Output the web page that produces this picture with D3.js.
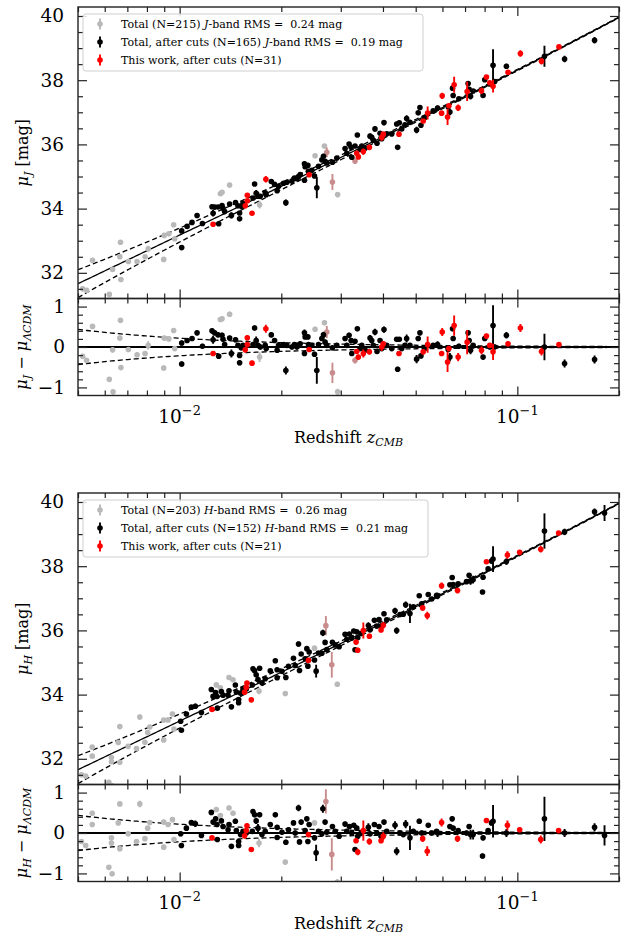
<!DOCTYPE html>
<html><head><meta charset="utf-8">
<script src="https://cdn.jsdelivr.net/npm/d3@7"></script>
<style>
body{margin:0;background:#fff}
text{font-family:"DejaVu Serif",serif;fill:#000}
</style>
</head><body>
<svg id="chart" width="628" height="936"></svg>
<script>
// ---------- tick labels / axes ----------
const zDomain = [0.005, 0.2];
const xMajorTicks = [0.01, 0.1];
const xMajorLabels = [["10", "\u22122"], ["10", "\u22121"]];
const xMinorTicks = [0.005,0.006,0.007,0.008,0.009,0.02,0.03,0.04,0.05,0.06,0.07,0.08,0.09,0.2];
const muDomain = [31.2, 40.28];
const muTicks = [32, 34, 36, 38, 40];
const muMinorTicks = [31.5,32.5,33,33.5,34.5,35,35.5,36.5,37,37.5,38.5,39,39.5];
const resDomain = [-1.2, 1.2];
const resTicks = [-1, 0, 1];
const resTickLabels = ["\u22121", "0", "1"];
const resMinorTicks = [-0.8,-0.6,-0.4,-0.2,0.2,0.4,0.6,0.8];

// cosmology used for the reference curve
const H0 = 70, OMEGA_M = 0.3, SIGMA_V = 300, C_KMS = 299792.458;

// ---------- J band data: [z_CMB, mu - mu_LCDM, error] ----------
const jGray = [[0.00552,0.51,0.06],[0.00516,-0.23],[0.0053,-0.33],[0.00633,-0.07],[0.00668,0.66],[0.00665,0.22],[0.0067,-0.51],[0.00619,-0.80],[0.00635,-1.11],[0.00705,-0.06],[0.00748,-0.19],[0.0079,-0.16],[0.00807,0.04,0.1],[0.00897,-0.52],[0.009,0.22],[0.00929,0.20],[0.0096,0.41],[0.00967,-0.04],[0.0132,0.68],[0.01335,0.70],[0.01406,0.81],[0.01725,-0.25,0.12],[0.02518,0.44],[0.02684,0.60],[0.02937,-1.11,0.08]];
const jPink = [[0.02727,0.37,0.15],[0.02834,-0.64,0.25],[0.03306,-0.33,0.08]];
const jBlack = [[0.01014,0.10],[0.01014,-0.42],[0.01052,0.16],[0.01088,0.21],[0.01126,0.35],[0.01168,0.02],[0.01247,0.40],[0.01256,0.18,0.1],[0.01269,0.35],[0.01299,0.30],[0.01305,-0.23],[0.01335,0.29],[0.01344,0.19],[0.01359,0.06],[0.01406,0.22],[0.01423,-0.16,0.1],[0.01464,0.18],[0.01488,0.04],[0.01505,-0.21],[0.01505,-0.39],[0.01522,-0.02],[0.0154,0.04],[0.01649,0.06],[0.01667,0.47],[0.01685,0.16,0.1],[0.01706,0.04],[0.01733,0],[0.01792,0.04],[0.01804,-0.04],[0.01868,0.30],[0.0191,0.16],[0.01944,-0.08],[0.01963,0.04],[0.02031,0.06],[0.02063,-0.58,0.1],[0.02077,0.04],[0.0215,0],[0.02187,0.06],[0.02224,0],[0.02249,0.04],[0.02275,0.08],[0.02342,0.35,0.08],[0.02353,0.25],[0.02397,0.25],[0.02342,-0.16],[0.02407,0.06],[0.02463,0.04],[0.02508,-0.18],[0.02548,-0.58,0.33],[0.02577,0.06],[0.02637,0.21],[0.02666,0.30,0.08],[0.02696,0.12],[0.02727,0.04],[0.02834,-0.02],[0.0292,0.04],[0.03089,0.21],[0.03125,0.04],[0.03175,0.29],[0.03219,0.16],[0.03234,-0.16],[0.03306,0.14],[0.03359,0.45],[0.03422,-0.04],[0.03462,0.04],[0.03539,-0.08],[0.03663,0.22,0.08],[0.03705,0.16],[0.03745,0.04],[0.03788,0.37,0.08],[0.03841,-0.11],[0.03921,0.16],[0.03966,-0.04],[0.04028,0.43,0.08],[0.04103,0.04],[0.04246,-0.04],[0.04392,0.19],[0.04422,-0.55],[0.04471,0.19],[0.04545,-0.04],[0.04647,0.04],[0.04701,0.21,0.1],[0.04809,0.04],[0.05031,-0.30,0.1],[0.05087,0.21],[0.05147,0.35],[0.05182,-0.22],[0.05322,-0.04],[0.05634,0.04],[0.05805,0.06,0.08],[0.0624,-0.06],[0.06313,-0.25,0.1],[0.06429,0.45],[0.06455,0.21],[0.06711,0.02],[0.07149,0.35],[0.07198,0.16],[0.07268,-0.08,0.1],[0.07396,0.04],[0.07916,-0.25],[0.08007,0.21],[0.08287,0],[0.08473,0.53,0.5],[0.0857,0],[0.09281,0.29,0.08],[0.1203,0,0.33],[0.138,-0.41,0.1],[0.1693,-0.31,0.1]];
const jRed = [[0.01256,-0.16],[0.01586,0.23],[0.01586,0.06],[0.01564,-0.07],[0.01638,-0.40],[0.018,0.45,0.1],[0.02418,-0.06],[0.03345,-0.11],[0.03382,-0.25],[0.03499,-0.16,0.1],[0.03646,-0.12],[0.03966,0,0.1],[0.04009,0.08],[0.04462,-0.16],[0.05263,-0.12],[0.05424,0.06,0.2],[0.05966,-0.16],[0.05991,0.37,0.1],[0.06214,-0.37,0.25],[0.0627,-0.04],[0.06499,0.53,0.25],[0.06679,-0.25,0.1],[0.07101,0.12,0.3],[0.07832,-0.08,0.1],[0.081,0.27],[0.08287,0.04],[0.08473,-0.12,0.2],[0.09385,0.08],[0.1021,0.47,0.1],[0.1179,-0.11,0.1],[0.1328,0.06]];

// ---------- H band data ----------
const hGray = [[0.00551,0.49],[0.00551,0.21],[0.00512,-0.21],[0.00527,-0.31],[0.00628,-0.12],[0.00628,-0.25],[0.00617,-0.85],[0.00631,-1.01],[0.00665,0.72],[0.00658,0.25],[0.00665,-0.39],[0.00704,-0.02],[0.00745,-0.21],[0.00762,0.72,0.08],[0.00789,-0.14],[0.00804,0.12],[0.00816,0.26],[0.00897,0.27],[0.00897,-0.35],[0.00924,0.21],[0.00952,0.33],[0.00962,-0.16],[0.01284,0.58],[0.0132,0.43],[0.014,0.62],[0.01439,0.49],[0.01718,-0.25,0.1],[0.02508,0.25],[0.02055,-0.72],[0.0293,-1.22,0.08]];
const hPink = [[0.0271,0.78,0.3],[0.02822,-0.53,0.4]];
const hBlack = [[0.01007,-0.02],[0.01012,-0.31],[0.01047,0.12],[0.01083,0.26],[0.01113,0.23,0.08],[0.0116,-0.06],[0.01241,0.51],[0.01256,0.27],[0.01278,0.35],[0.0129,0.21],[0.01293,-0.16],[0.01329,0.30],[0.01344,0.16],[0.01391,0.08],[0.014,0.21],[0.01423,-0.33],[0.01462,0.29],[0.01472,0.06],[0.01495,-0.21],[0.01495,-0.31],[0.01515,-0.04],[0.0154,0.04],[0.01575,0],[0.01641,0.04],[0.01649,0.53],[0.01667,0.45],[0.01685,0.30,0.08],[0.01706,0.12,0.1],[0.01725,0.45],[0.01753,-0.04],[0.01792,0.04],[0.01855,0.21],[0.0192,0.45],[0.01944,0.14],[0.01944,-0.11],[0.02009,0.02],[0.02063,-0.23],[0.021,0.08],[0.02173,0.25],[0.02199,0],[0.02249,0.62,0.08],[0.02264,-0.22],[0.0229,0.27],[0.02353,0.06],[0.0238,0.35],[0.02397,-0.21],[0.02418,0.21],[0.02508,-0.12],[0.02536,-0.49,0.2],[0.02577,0.04],[0.02637,-0.02],[0.02655,0.60,0.1],[0.02696,0.27],[0.02727,0.02],[0.02834,0.16],[0.02887,0.04],[0.02967,-0.08],[0.03089,0.22],[0.03125,0.04],[0.03182,0.16],[0.03234,0],[0.03278,0.19],[0.03306,-0.41],[0.03345,0.12],[0.03368,-0.08],[0.03445,0],[0.03621,0.14,0.1],[0.03663,-0.02],[0.03772,0.21],[0.03833,0],[0.03894,0.16],[0.03948,-0.08],[0.04028,0.27],[0.04103,0.04],[0.04343,0.19,0.1],[0.04392,-0.45,0.1],[0.04493,0],[0.04594,-0.04],[0.0467,0.22,0.1],[0.04809,-0.12,0.3],[0.04918,0.04],[0.05123,0.29],[0.05207,0],[0.05447,0.19],[0.05574,0],[0.05766,0.04],[0.05805,0,0.1],[0.06313,0.16],[0.06413,0.35],[0.06455,0.12],[0.06679,0.06],[0.07071,0],[0.07198,0.16],[0.07268,-0.04,0.12],[0.07396,-0.04,0.12],[0.07886,-0.57],[0.07916,-0.12],[0.08192,0.06],[0.08383,0.25],[0.08473,0.29,0.4],[0.09281,0,0.1],[0.1203,0.35,0.55],[0.138,0,0.1],[0.1693,0.14,0.1],[0.1812,-0.06,0.25]];
const hRed = [[0.01247,-0.12],[0.01582,0.18],[0.01575,0.06],[0.01557,-0.07],[0.0163,-0.41],[0.02407,-0.04],[0.0333,-0.19],[0.03368,-0.47,0.08],[0.03499,0.06,0.25],[0.03646,-0.21,0.08],[0.03948,-0.19],[0.04009,-0.08,0.1],[0.05243,-0.14,0.08],[0.0541,-0.45,0.12],[0.05966,0.26,0.1],[0.06651,-0.14,0.08],[0.081,0.31],[0.09346,0.19,0.12],[0.1016,0.08,0.06],[0.1173,-0.16,0.1],[0.1325,0.06]];

const jLegend = [["Total (N=215) ","J","-band RMS =  0.24 mag"],["Total, after cuts (N=165) ","J","-band RMS =  0.19 mag"],["This work, after cuts (N=31)","",""]];
const hLegend = [["Total (N=203) ","H","-band RMS =  0.26 mag"],["Total, after cuts (N=152) ","H","-band RMS =  0.21 mag"],["This work, after cuts (N=21)","",""]];

const COLORS = {gray:"#b9b9b9", pink:"#c98c8c", black:"#000", red:"#ff0000"};

function muLCDM(z){
  const n = 40, h = z/n; let s = 0;
  for (let i=0;i<=n;i++){
    const zz=i*h, f=1/Math.sqrt(OMEGA_M*Math.pow(1+zz,3)+1-OMEGA_M);
    s += (i===0||i===n)?f:(i%2?4*f:2*f);
  }
  const dL = (1+z)*C_KMS/H0*(s*h/3);
  return 5*Math.log10(dL)+25;
}
function pecEnv(z){ return 5/Math.LN10*SIGMA_V/(C_KMS*z); }

const svg = d3.select("#chart");
const X0 = 78, X1 = 619, MAIN_H = 291.5, RES_H = 97;
let clipId = 0;

function drawBand(o){
  const top = o.top, mainB = top+MAIN_H, resB = mainB+RES_H;
  const x = d3.scaleLog().domain(zDomain).range([X0,X1]);
  const yM = d3.scaleLinear().domain(muDomain).range([mainB, top]);
  const yR = d3.scaleLinear().domain(resDomain).range([resB, mainB]);
  const zs = d3.range(0,241).map(i => zDomain[0]*Math.pow(zDomain[1]/zDomain[0], i/240));

  function clip(y0,y1){
    const id = "clip"+(clipId++);
    svg.append("clipPath").attr("id",id).append("rect").attr("x",X0).attr("y",y0).attr("width",X1-X0).attr("height",y1-y0);
    return "url(#"+id+")";
  }

  // ---- main panel ----
  const gM = svg.append("g").attr("clip-path", clip(top, mainB));
  const lineM = (off) => d3.line().x(z=>x(z)).y(z=>yM(muLCDM(z)+off(z)));
  gM.append("path").attr("d", lineM(z=>0)(zs)).attr("fill","none").attr("stroke","#000").attr("stroke-width",1.3);
  gM.append("path").attr("d", lineM(z=>pecEnv(z))(zs)).attr("fill","none").attr("stroke","#000").attr("stroke-width",1.3).attr("stroke-dasharray","5,3");
  gM.append("path").attr("d", lineM(z=>-pecEnv(z))(zs)).attr("fill","none").attr("stroke","#000").attr("stroke-width",1.3).attr("stroke-dasharray","5,3");

  // ---- residual panel ----
  const gR = svg.append("g").attr("clip-path", clip(mainB, resB));
  const lineR = (off) => d3.line().x(z=>x(z)).y(z=>yR(off(z)));
  gR.append("path").attr("d", lineR(z=>pecEnv(z))(zs)).attr("fill","none").attr("stroke","#000").attr("stroke-width",1.3).attr("stroke-dasharray","5,3");
  gR.append("path").attr("d", lineR(z=>-pecEnv(z))(zs)).attr("fill","none").attr("stroke","#000").attr("stroke-width",1.3).attr("stroke-dasharray","5,3");
  gR.append("path").attr("d", lineR(z=>0)(zs)).attr("fill","none").attr("stroke","#000").attr("stroke-width",2);

  function drawPts(g, data, color, yf){
    const grp = g.append("g");
    data.forEach(d => {
      const z=d[0], r=d[1], e=(d[2]===undefined?0.06:d[2]);
      const v = yf(z,r);
      grp.append("line").attr("x1",x(z)).attr("x2",x(z)).attr("y1",v.s(v.val-e)).attr("y2",v.s(v.val+e))
        .attr("stroke",color).attr("stroke-width",1.9);
      grp.append("circle").attr("cx",x(z)).attr("cy",v.s(v.val)).attr("r",2.8).attr("fill",color);
    });
  }
  const mainF = (z,r)=>({s:yM, val:muLCDM(z)+r});
  const resF = (z,r)=>({s:yR, val:r});
  [[o.gray,COLORS.gray],[o.pink,COLORS.pink],[o.black,COLORS.black],[o.red,COLORS.red]].forEach(([d,c])=>{
    drawPts(gM,d,c,mainF); drawPts(gR,d,c,resF);
  });

  // ---- axes / ticks ----
  function yTicks(scale, major, minor, labels, pad){
    const maj = svg.append("g").attr("transform",`translate(${X0},0)`)
      .call(d3.axisLeft(scale).tickValues(major).tickSize(-9).tickPadding(pad).tickFormat((d,i)=>labels[i]));
    maj.select(".domain").remove();
    maj.selectAll("text").style("font-family","DejaVu Serif").style("font-size","18.5px").attr("fill","#000");
    const mn = svg.append("g").attr("transform",`translate(${X0},0)`).call(d3.axisLeft(scale).tickValues(minor).tickSize(-5).tickFormat(""));
    mn.select(".domain").remove();
    const majR = svg.append("g").attr("transform",`translate(${X1},0)`).call(d3.axisRight(scale).tickValues(major).tickSize(-9).tickFormat(""));
    majR.select(".domain").remove();
    const mnR = svg.append("g").attr("transform",`translate(${X1},0)`).call(d3.axisRight(scale).tickValues(minor).tickSize(-5).tickFormat(""));
    mnR.select(".domain").remove();
    svg.selectAll(".tick line").attr("stroke","#222").attr("stroke-width",1.2);
  }
  function xTicks(yPos, dir){
    const axis = dir==="bottom" ? d3.axisBottom : d3.axisTop;
    const a = svg.append("g").attr("transform",`translate(0,${yPos})`).call(axis(x).tickValues(xMajorTicks).tickSize(-9).tickFormat(""));
    a.select(".domain").remove();
    const b = svg.append("g").attr("transform",`translate(0,${yPos})`).call(axis(x).tickValues(xMinorTicks).tickSize(-5).tickFormat(""));
    b.select(".domain").remove();
    svg.selectAll(".tick line").attr("stroke","#222").attr("stroke-width",1.2);
  }
  yTicks(yM, muTicks, muMinorTicks, muTicks.map(String), 14);
  yTicks(yR, resTicks, resMinorTicks, resTickLabels, 13);
  xTicks(top,"top"); xTicks(mainB,"bottom"); xTicks(mainB,"top"); xTicks(resB,"bottom");

  // frames
  svg.append("rect").attr("x",X0).attr("y",top).attr("width",X1-X0).attr("height",MAIN_H).attr("fill","none").attr("stroke","#222").attr("stroke-width",1.4);
  svg.append("rect").attr("x",X0).attr("y",mainB).attr("width",X1-X0).attr("height",RES_H).attr("fill","none").attr("stroke","#222").attr("stroke-width",1.4);

  // x tick labels (10^n)
  xMajorTicks.forEach((v,i)=>{
    const t = svg.append("text").attr("x",x(v)).attr("y",resB+27).attr("text-anchor","middle").style("font-size","18.5px");
    t.append("tspan").text(xMajorLabels[i][0]);
    t.append("tspan").attr("dy",-8).style("font-size","13px").text(xMajorLabels[i][1]);
  });

  // axis labels
  const xl = svg.append("text").attr("x",(X0+X1)/2).attr("y",resB+47).attr("text-anchor","middle").style("font-size","16px");
  xl.append("tspan").text("Redshift ");
  xl.append("tspan").style("font-style","italic").text("z");
  xl.append("tspan").attr("dy",3).style("font-style","italic").style("font-size","11px").text("CMB");

  const yl = svg.append("text").attr("transform",`translate(28,${(top+mainB)/2}) rotate(-90)`).attr("text-anchor","middle").style("font-size","16px");
  yl.append("tspan").style("font-style","italic").text("\u03bc");
  yl.append("tspan").attr("dy",4).style("font-style","italic").style("font-size","11px").text(o.band);
  yl.append("tspan").attr("dy",-4).text(" [mag]");

  const rl = svg.append("text").attr("transform",`translate(27,${(mainB+resB)/2}) rotate(-90)`).attr("text-anchor","middle").style("font-size","16px");
  rl.append("tspan").style("font-style","italic").text("\u03bc");
  rl.append("tspan").attr("dy",4).style("font-style","italic").style("font-size","11px").text(o.band);
  rl.append("tspan").attr("dy",-4).text(" \u2212 ");
  rl.append("tspan").style("font-style","italic").text("\u03bc");
  rl.append("tspan").attr("dy",4).style("font-style","italic").style("font-size","11px").text("\u039bCDM");

  // legend
  const lg = svg.append("g");
  lg.append("rect").attr("x",83).attr("y",top+7).attr("width",o.legendW).attr("height",57).attr("rx",3)
    .attr("fill","#fff").attr("fill-opacity",0.85).attr("stroke","#cfcfcf").attr("stroke-width",1);
  const legColors = [COLORS.gray, COLORS.black, COLORS.red];
  o.legend.forEach((row,i)=>{
    const cy = top+17+i*18;
    lg.append("line").attr("x1",100).attr("x2",100).attr("y1",cy-5.5).attr("y2",cy+5.5).attr("stroke",legColors[i]).attr("stroke-width",1.9);
    lg.append("circle").attr("cx",100).attr("cy",cy).attr("r",2.8).attr("fill",legColors[i]);
    const t = lg.append("text").attr("x",121).attr("y",cy+4).style("font-size","11px").style("white-space","pre").attr("xml:space","preserve");
    t.append("tspan").text(row[0]);
    if (row[1]) t.append("tspan").style("font-style","italic").text(row[1]);
    if (row[2]) t.append("tspan").text(row[2]);
  });
}

drawBand({top:7, band:"J", gray:jGray, pink:jPink, black:jBlack, red:jRed, legend:jLegend, legendW:340});
drawBand({top:493, band:"H", gray:hGray, pink:hPink, black:hBlack, red:hRed, legend:hLegend, legendW:345});
</script>
</body></html>
